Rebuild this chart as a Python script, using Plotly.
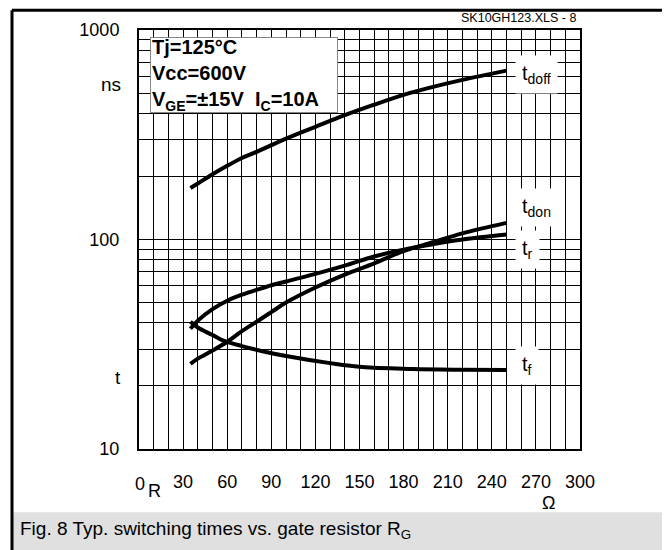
import plotly.graph_objects as go

# ---- data ----
R_tdoff = [35, 40, 50, 60, 70, 80, 90, 100, 120, 140, 160, 180, 200, 220, 250]
tdoff   = [176, 185, 205, 225, 245, 262, 282, 303, 345, 392, 440, 490, 535, 578, 640]

R_tdon = [35, 40, 50, 60, 70, 80, 90, 100, 120, 140, 160, 180, 200, 220, 250]
tdon   = [25.5, 27, 29.5, 32.5, 36.5, 40.5, 45, 50, 59, 68, 77, 88, 97, 107, 120]

R_tr = [35, 40, 50, 60, 70, 80, 90, 100, 120, 140, 160, 180, 200, 220, 250]
tr   = [37.5, 41, 46.5, 51, 54.5, 57.5, 60.5, 63, 68.5, 75, 83, 89.5, 95, 100, 105.6]

R_tf = [35, 40, 50, 57, 70, 84, 100, 130, 152, 186, 220, 250]
tf   = [40.5, 38, 35, 33, 31, 29.3, 27.8, 25.7, 24.6, 24.1, 23.9, 23.8]

x_grid = list(range(0, 301, 10))
x_labels = {30: "30", 60: "60", 90: "90", 120: "120", 150: "150", 180: "180",
            210: "210", 240: "240", 270: "270", 300: "300"}
y_grid = [10, 20, 30, 40, 50, 60, 70, 80, 90, 100, 200, 300, 400, 500, 600, 700, 800, 900, 1000]
y_labels = {10: "10", 100: "100", 1000: "1000"}

FONT = "Liberation Sans, Arial, sans-serif"

# page has an 8px body margin; reference pixel p -> figure pixel p-8
OFF = 8
FIG_W, FIG_H = 670 - OFF, 550 - OFF
# plot area in reference pixels: x 139..580, y 25..449
PL, PT, PW, PH = 139, 25, 441, 424
def px(xp):
    return (xp - PL) / PW
def py(yp):
    return (PT + PH - yp) / PH

fig = go.Figure()
for xs, ys in [(R_tdoff, tdoff), (R_tdon, tdon), (R_tr, tr), (R_tf, tf)]:
    fig.add_trace(go.Scatter(x=xs, y=ys, mode="lines", line=dict(color="black", width=4, shape="spline"),
                             showlegend=False, hoverinfo="skip"))

fig.update_layout(
    width=FIG_W, height=FIG_H,
    margin=dict(l=PL - OFF, r=FIG_W - (PL - OFF) - PW, t=PT - OFF, b=FIG_H - (PT - OFF) - PH),
    paper_bgcolor="white", plot_bgcolor="white",
    font=dict(family=FONT, color="black", size=18),
    showlegend=False,
)
fig.update_xaxes(
    range=[0, 300], tickmode="array", tickvals=x_grid,
    ticktext=[x_labels.get(v, "") for v in x_grid],
    showgrid=True, gridcolor="black", gridwidth=1, zeroline=False,
    showline=True, linecolor="black", linewidth=2, mirror=True,
    ticks="", ticklabelstandoff=15, tickfont=dict(size=18),
)
fig.update_yaxes(
    type="log", range=[1, 3], tickmode="array", tickvals=y_grid,
    ticktext=[y_labels.get(v, "") for v in y_grid],
    showgrid=True, gridcolor="black", gridwidth=1, zeroline=False,
    showline=True, linecolor="black", linewidth=2, mirror=True,
    ticks="", ticklabelstandoff=14, tickfont=dict(size=18),
)

ann = []
# conditions box
ann.append(dict(xref="paper", yref="paper", x=px(150), y=py(32), xanchor="left", yanchor="top",
                text="<b>Tj=125°C</b><br><b>Vcc=600V</b><br><b>V<sub>GE</sub>=±15V  I<sub>C</sub>=10A</b>",
                align="left", valign="middle", width=184, height=72,
                showarrow=False, bgcolor="white", bordercolor="#888888", borderwidth=1,
                borderpad=1, font=dict(size=20, family=FONT)))
# curve labels
for txt, yc in [("t<sub>doff</sub>", 70), ("t<sub>don</sub>", 205), ("t<sub>r</sub>", 247), ("t<sub>f</sub>", 365)]:
    ann.append(dict(xref="paper", yref="paper", x=px(515), y=py(yc), xanchor="left", yanchor="middle",
                    text=txt, showarrow=False, bgcolor="white", borderpad=6, font=dict(size=20, family=FONT)))
# axis extras
ann.append(dict(xref="paper", yref="paper", x=px(123), y=py(80), xanchor="right", yanchor="middle",
                text="ns", showarrow=False, font=dict(size=19)))
ann.append(dict(xref="paper", yref="paper", x=px(123), y=py(377), xanchor="right", yanchor="middle",
                text="t", showarrow=False, font=dict(size=19)))
ann.append(dict(xref="paper", yref="paper", x=px(140), y=py(484), xanchor="center", yanchor="middle",
                text="0", showarrow=False, font=dict(size=18)))
ann.append(dict(xref="paper", yref="paper", x=px(146), y=py(492), xanchor="left", yanchor="middle",
                text="R", showarrow=False, font=dict(size=18)))
ann.append(dict(xref="paper", yref="paper", x=px(548), y=py(504), xanchor="center", yanchor="middle",
                text="Ω", showarrow=False, font=dict(size=18)))
ann.append(dict(xref="paper", yref="paper", x=px(578), y=py(13), xanchor="right", yanchor="middle",
                text="SK10GH123.XLS - 8", showarrow=False, font=dict(size=12.5)))
ann.append(dict(xref="paper", yref="paper", x=px(18), y=py(531), xanchor="left", yanchor="middle",
                text="Fig. 8 Typ. switching times vs. gate resistor R<sub>G</sub>", showarrow=False,
                font=dict(size=19)))
fig.update_layout(annotations=ann)

shapes = [
    dict(type="rect", xref="paper", yref="paper", x0=px(12), x1=px(670), y0=py(513), y1=py(552),
         fillcolor="#e0e0e0", line=dict(width=0), layer="below"),
    dict(type="line", xref="paper", yref="paper", x0=px(12), x1=px(12), y0=py(5), y1=py(552),
         line=dict(color="black", width=3)),
    dict(type="line", xref="paper", yref="paper", x0=px(12), x1=px(666), y0=py(5), y1=py(5),
         line=dict(color="black", width=3)),
    dict(type="line", xref="paper", yref="paper", x0=px(666), x1=px(666), y0=py(5), y1=py(513),
         line=dict(color="black", width=3)),
]
fig.update_layout(shapes=shapes)

fig.write_html("out.html")
